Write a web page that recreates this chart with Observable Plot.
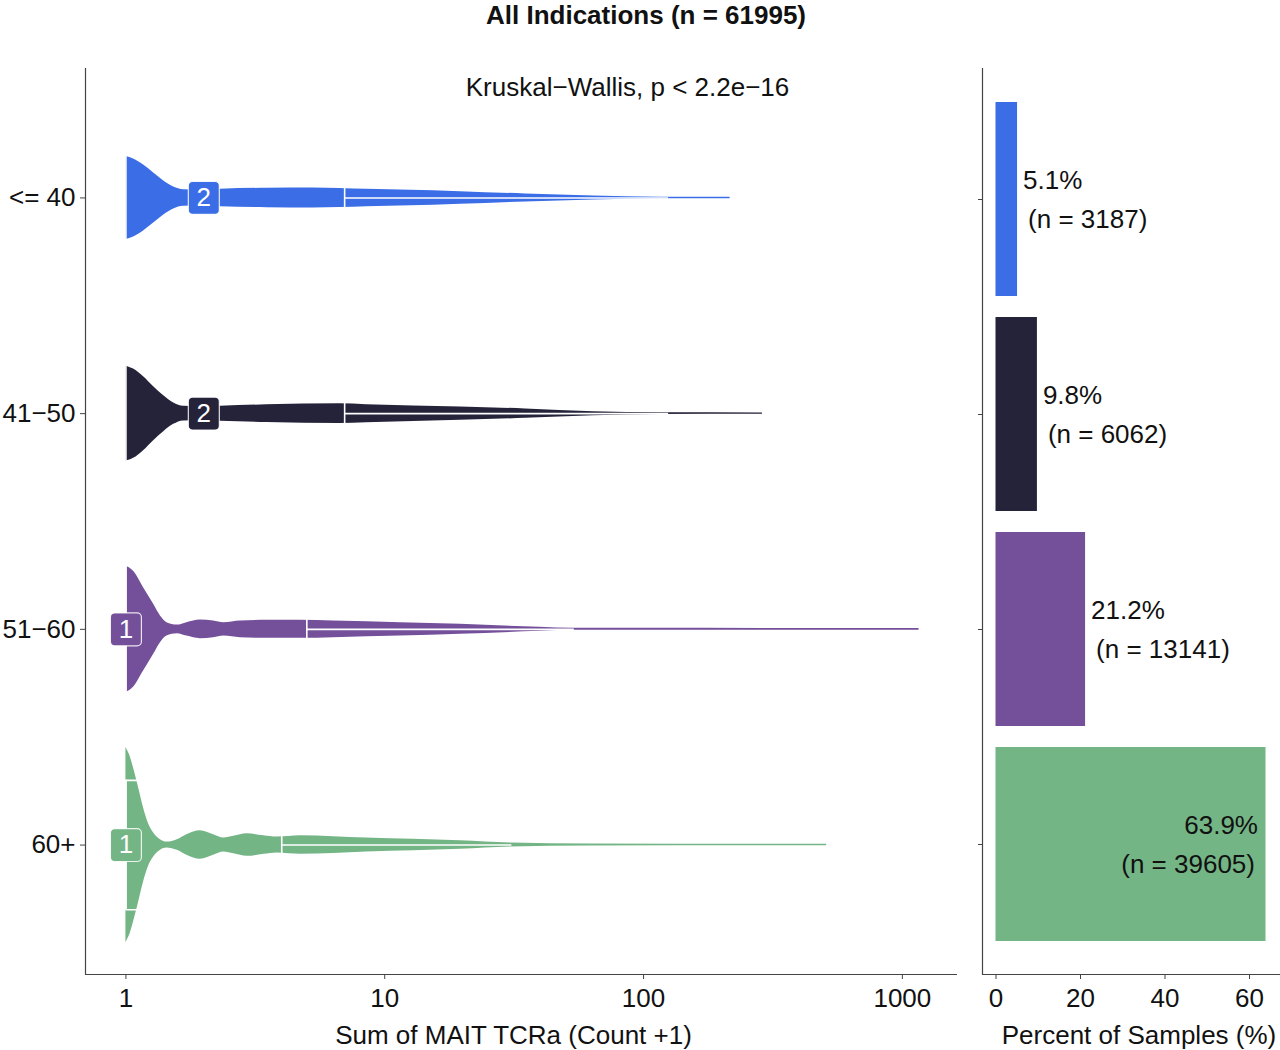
<!DOCTYPE html>
<html>
<head>
<meta charset="utf-8">
<script src="https://cdn.jsdelivr.net/npm/d3@7"></script>
<script src="https://cdn.jsdelivr.net/npm/@observablehq/plot@0.6"></script>
<style>
  html, body { margin: 0; padding: 0; background: #fff; }
  #wrap { position: relative; width: 1280px; height: 1050px; overflow: hidden;
          font-family: "Liberation Sans", Arial, Helvetica, sans-serif; color: #111; }
  #title { position: absolute; left: 0; top: 1px; width: 1292px; text-align: center;
           font-weight: bold; font-size: 26px; line-height: 29px; }
  #left { position: absolute; left: 0; top: 0; }
  #right { position: absolute; left: 960px; top: 0; }
</style>
</head>
<body>
<div id="wrap">
  <div id="left"></div>
  <div id="right"></div>
  <div id="title">All Indications (n = 61995)</div>
</div>
<script>
// ---------- data ----------
const groups = ["<= 40", "41−50", "51−60", "60+"];
const groupColors = ["#3a6de6", "#24233a", "#744f9a", "#74b585"];

// violin profiles: value (count + 1) and relative density (half-width)
const le40Values  = [1.0, 1.07, 1.17, 1.28, 1.40, 1.53, 1.67, 2.0, 2.32, 3.5, 5.3, 6.7, 8.5, 15.4, 19.6, 35, 64, 116, 216];
const le40Density = [41.5, 39, 33, 25, 17, 11, 8.3, 8, 8.7, 9.7, 10, 9.5, 8.7, 7.2, 6.3, 4, 2, 0.8, 0.7];

const a4150Values  = [1.0, 1.07, 1.17, 1.28, 1.40, 1.53, 1.67, 2.0, 2.32, 3.5, 6.7, 8.5, 19.6, 35, 64, 116, 288];
const a4150Density = [47.5, 44.7, 37, 27, 18, 10.7, 7.3, 7, 7.5, 8.8, 9.8, 9, 6.7, 4.7, 2, 0.8, 0.7];

const a5160Values  = [1.0, 1.07, 1.17, 1.28, 1.36, 1.44, 1.58, 1.72, 1.94, 2.18, 2.39, 2.77, 3.51, 4.72, 6.33, 11.5, 19.6, 39.6, 54, 100, 1160];
const a5160Density = [63.3, 58, 41.7, 25, 13.3, 6.7, 4.3, 6.7, 9.3, 8.3, 6.7, 8.3, 9, 9, 8.3, 6.7, 5, 2, 1, 1, 0.8];

const a60Values  = [1.0, 1.04, 1.07, 1.12, 1.17, 1.22, 1.28, 1.36, 1.44, 1.58, 1.72, 1.94, 2.18, 2.39, 2.61, 2.94, 3.41, 3.84, 4.72, 8.5, 19.6, 30.7, 62, 510];
const a60Density = [97.5, 88, 77, 57, 37, 22, 12, 5.3, 3, 5.3, 10.3, 14.3, 10.3, 7, 8.7, 11.3, 9.3, 8, 9.3, 7, 4.3, 2, 1, 0.7];

// box-plot statistics
const q1Values = [1, 1, 1, 1];
const medianValues = [2, 2, 1, 1];
const q3Values = [7, 7, 5, 4];
const whiskerHiValues = [125, 125, 54, 31];

// bar panel
const percentValues = [5.1, 9.8, 21.2, 63.9];
const sampleCounts = [3187, 6062, 13141, 39605];

const countTicks = [1, 10, 100, 1000];
const percentTicks = [0, 20, 40, 60];
const testLabel = "Kruskal−Wallis, p < 2.2e−16";
const xTitleLeft = "Sum of MAIT TCRa (Count +1)";
const xTitleRight = "Percent of Samples (%)";

// ---------- derived tables ----------
const violinValues = [le40Values, a4150Values, a5160Values, a60Values];
const violinDensity = [le40Density, a4150Density, a5160Density, a60Density];
const violinRows = groups.flatMap((g, i) =>
  violinValues[i].map((v, j) => ({group: g, pos: i + 1, value: v, density: violinDensity[i][j]})));
const boxRows = groups.map((g, i) => ({
  group: g, pos: i + 1, q1: q1Values[i], median: medianValues[i], q3: q3Values[i], hi: whiskerHiValues[i]
}));
const barRows = groups.map((g, i) => ({group: g, pct: percentValues[i], n: sampleCounts[i]}));

// ---------- styling ----------
const font = "'Liberation Sans', Arial, Helvetica, sans-serif";
const baseStyle = {fontFamily: font, fontSize: "26px", color: "#111", background: "transparent", overflow: "visible"};
const axisColor = "#444";
const densityScale = 1 / 215.7;   // density units -> y units
const boxHalf = 0.3;
const boxStroke = {stroke: "white", strokeWidth: 1.6};
const color = {domain: groups, range: groupColors};

const roundedSquare = {
  draw(context, size) {
    const r = Math.sqrt(size / Math.PI);
    const w = r, h = r * 1.06, c = r * 0.28;
    context.moveTo(-w + c, -h);
    context.arcTo(w, -h, w, h, c);
    context.arcTo(w, h, -w, h, c);
    context.arcTo(-w, h, -w, -h, c);
    context.arcTo(-w, -h, w, -h, c);
    context.closePath();
  }
};

const xDomain = [0.698, 1633];
const yDomain = [0.4, 4.6];

const leftPlot = Plot.plot({
  width: 960, height: 1050,
  marginLeft: 85, marginRight: 3, marginTop: 68, marginBottom: 76,
  style: baseStyle,
  x: {type: "log", domain: xDomain},
  y: {domain: yDomain, reverse: true},
  color,
  marks: [
    Plot.areaY(violinRows, {
      x: "value",
      y1: d => d.pos - d.density * densityScale,
      y2: d => d.pos + d.density * densityScale,
      z: "group", fill: "group", curve: "monotone-x"
    }),
    Plot.ruleY(boxRows, {y: d => d.pos - boxHalf, x1: "q1", x2: "q3", ...boxStroke}),
    Plot.ruleY(boxRows, {y: d => d.pos + boxHalf, x1: "q1", x2: "q3", ...boxStroke}),
    Plot.ruleX(boxRows, {x: "q1", y1: d => d.pos - boxHalf, y2: d => d.pos + boxHalf, ...boxStroke}),
    Plot.ruleX(boxRows, {x: "q3", y1: d => d.pos - boxHalf, y2: d => d.pos + boxHalf, ...boxStroke}),
    Plot.ruleX(boxRows, {x: "median", y1: d => d.pos - boxHalf, y2: d => d.pos + boxHalf, ...boxStroke}),
    Plot.ruleY(boxRows, {y: "pos", x1: "q3", x2: "hi", ...boxStroke}),
    Plot.dot(boxRows, {x: "median", y: "pos", r: 15.5, symbol: roundedSquare, fill: "group", stroke: "white", strokeWidth: 1.2, strokeOpacity: 0.85}),
    Plot.text(boxRows, {x: "median", y: "pos", text: d => String(d.median), fill: "white", fontSize: 26}),
    Plot.ruleX([xDomain[0]], {stroke: axisColor, strokeWidth: 1.2}),
    Plot.ruleY([yDomain[1]], {stroke: axisColor, strokeWidth: 1.2}),
    Plot.axisX({ticks: countTicks, tickFormat: d => String(d), tickSize: 5, tickPadding: 9, label: null, fontSize: 26, stroke: axisColor}),
    Plot.axisY({ticks: [1, 2, 3, 4], tickFormat: i => groups[i - 1], tickSize: 5, tickPadding: 5, label: null, fontSize: 26, stroke: axisColor}),
    Plot.text([testLabel], {frameAnchor: "top", lineAnchor: "middle", dx: 106, dy: 19, fontSize: 26}),
    Plot.text([xTitleLeft], {frameAnchor: "bottom", lineAnchor: "middle", dx: -8, dy: 61, fontSize: 26})
  ]
});
document.getElementById("left").appendChild(leftPlot);

const pDomain = [-3.195, 67.095];
const outside = barRows.filter(d => d.pct <= 50);
const inside = barRows.filter(d => d.pct > 50);

const rightPlot = Plot.plot({
  width: 320, height: 1050,
  marginLeft: 22, marginRight: 1, marginTop: 68, marginBottom: 76,
  style: baseStyle,
  x: {domain: pDomain},
  y: {type: "band", domain: groups, paddingInner: 0.1, paddingOuter: 0.15},
  color,
  marks: [
    Plot.barX(barRows, {x: "pct", y: "group", fill: "group"}),
    Plot.text(outside, {x: "pct", y: "group", text: d => `${d.pct.toFixed(1)}%`, textAnchor: "start", dx: 5.5, dy: -18.5, fontSize: 26}),
    Plot.text(outside, {x: "pct", y: "group", text: d => `(n = ${d.n})`, textAnchor: "start", dx: 10.5, dy: 20.5, fontSize: 26}),
    Plot.text(inside, {x: "pct", y: "group", text: d => `${d.pct.toFixed(1)}%`, textAnchor: "end", dx: -8, dy: -18.5, fontSize: 26}),
    Plot.text(inside, {x: "pct", y: "group", text: d => `(n = ${d.n})`, textAnchor: "end", dx: -11, dy: 20.5, fontSize: 26}),
    Plot.ruleX([pDomain[0]], {stroke: axisColor, strokeWidth: 1.2}),
    Plot.frame({anchor: "bottom", stroke: axisColor, strokeWidth: 1.2}),
    Plot.axisX({ticks: percentTicks, tickSize: 5, tickPadding: 9, label: null, fontSize: 26, stroke: axisColor}),
    Plot.axisY({tickSize: 4, tickFormat: () => "", label: null, stroke: axisColor}),
    Plot.text([xTitleRight], {frameAnchor: "bottom", lineAnchor: "middle", dx: 8, dy: 61, fontSize: 26})
  ]
});
document.getElementById("right").appendChild(rightPlot);
</script>
</body>
</html>
